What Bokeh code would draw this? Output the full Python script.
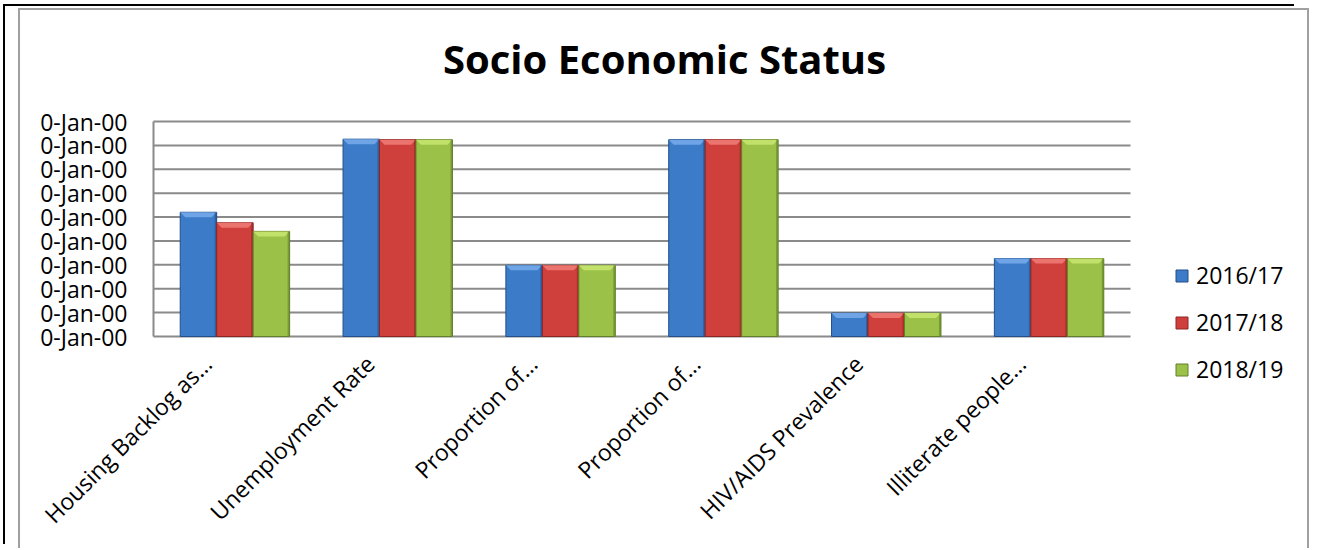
import math
from bokeh.plotting import figure
from bokeh.core.properties import value
from bokeh.models import ColumnDataSource, Legend, LegendItem, Range1d
from bokeh.embed import file_html
from bokeh.resources import INLINE

# ---- data -------------------------------------------------------------
categories = ["Housing Backlog as…", "Unemployment Rate", "Proportion of…",
              "Proportion of…", "HIV/AIDS Prevalence", "Illiterate people…"]
series_names = ["2016/17", "2017/18", "2018/19"]
v_2016_17 = [0.260, 0.413, 0.149, 0.412, 0.049, 0.163]
v_2017_18 = [0.238, 0.412, 0.149, 0.412, 0.049, 0.163]
v_2018_19 = [0.220, 0.412, 0.149, 0.412, 0.049, 0.163]
y_ticks = [0.0, 0.05, 0.10, 0.15, 0.20, 0.25, 0.30, 0.35, 0.40, 0.45]
y_tick_label = "0-Jan-00"
chart_title = "Socio Economic Status"

series_values = [v_2016_17, v_2017_18, v_2018_19]
main_colors = ["#3c7bc8", "#cf3f3b", "#9bc148"]
light_colors = ["#74aaea", "#ee7a76", "#c7e46e"]
dark_colors = ["#244f88", "#8e2624", "#62802a"]

FONT = value("Open Sans")
GRID = "#8a8a8a"

# ---- pixel layout -------------------------------------------------------
W, H = 1291, 540            # figure size (inside the grey frame)
left, top = 133, 111        # bar plot area offsets inside the figure
plot_w, plot_h = 977, 215   # bar plot area (gridded region)
n = len(categories)
y_max = y_ticks[-1]
x0 = -0.5
x1 = x0 + n
ux = n / plot_w             # data units per pixel
uy = y_max / plot_h

p = figure(width=W, height=H, output_backend="svg", toolbar_location=None,
           x_range=Range1d(x0 - left * ux, x0 + (W - left) * ux),
           y_range=Range1d(y_max - (H - top) * uy, y_max + top * uy),
           x_axis_type=None, y_axis_type=None,
           min_border_left=0, min_border_right=0, min_border_top=0,
           min_border_bottom=0,
           styles={"margin-left": "18px", "margin-top": "8px",
                   "border-left": "2px solid #a0a0a0",
                   "border-top": "2px solid #a0a0a0",
                   "border-right": "2px solid #a0a0a0",
                   "box-shadow": "-13px -2px 0 0 #ffffff, -15px -4px 0 0 #000000"})
p.outline_line_color = None
p.background_fill_color = "white"
p.border_fill_color = "white"
p.grid.visible = False

# title
p.text(x=[x0 + (644 - left) * ux], y=[y_max + (top - 48) * uy], text=[chart_title],
       text_align="center", text_baseline="middle", text_font=FONT,
       text_font_size="40px", text_font_style="bold", text_color="black")

# gridlines + axis line, limited to the bar plot area
p.segment(x0=[x0] * len(y_ticks), x1=[x1] * len(y_ticks), y0=y_ticks, y1=y_ticks,
          line_color=GRID, line_width=2)
p.segment(x0=[x0], x1=[x0], y0=[0], y1=[y_max], line_color=GRID, line_width=2)

bar_w = 0.224
offsets = [-bar_w, 0.0, bar_w]
bev_h = 5 * uy
bev_d = 5 * ux

renderers = []
for vals, off, mc, lc, dc in zip(series_values, offsets, main_colors,
                                  light_colors, dark_colors):
    xs = [i + off for i in range(len(vals))]
    src = ColumnDataSource(dict(x=xs, top=vals))
    r = p.vbar(x="x", top="top", width=bar_w, source=src, fill_color=mc,
               line_color=dc, line_width=1)
    renderers.append(r)
    # bevel top cap
    px, py = [], []
    for x, t in zip(xs, vals):
        px.append([x - bar_w / 2, x + bar_w / 2, x + bar_w / 2 - bev_d, x - bar_w / 2 + bev_d])
        py.append([t, t, t - bev_h, t - bev_h])
    p.patches(px, py, fill_color=lc, line_color=None, fill_alpha=0.9)
    # dark right edge
    p.vbar(x=[x + bar_w / 2 - 1 * ux for x in xs], top=vals, width=2 * ux,
           fill_color=dc, line_color=None, fill_alpha=0.6)

# ---- y tick labels --------------------------------------------------------
p.text(x=[x0] * len(y_ticks), y=y_ticks, text=[y_tick_label] * len(y_ticks),
       text_align="right", text_baseline="middle", x_offset=-26,
       text_font=FONT, text_font_size="23px", text_color="black")

# ---- category labels (rotated) ------------------------------------------
label_shift = 0.17
p.text(x=[i - label_shift for i in range(n)], y=[0] * n, text=categories,
       angle=math.pi / 4, text_align="right", text_baseline="middle",
       y_offset=23, text_font=FONT, text_font_size="23px",
       text_color="black")

# ---- legend --------------------------------------------------------------
legend = Legend(items=[LegendItem(label=nm, renderers=[r])
                       for nm, r in zip(series_names, renderers)],
                location=(1154, 165), orientation="vertical",
                border_line_color=None, background_fill_alpha=0,
                glyph_width=15, glyph_height=15, spacing=15,
                label_text_font="Open Sans", label_text_font_size="23px",
                label_text_color="black",
                label_standoff=7, padding=0, margin=0)
p.add_layout(legend)

open("out.html", "w").write(file_html(p, INLINE))
